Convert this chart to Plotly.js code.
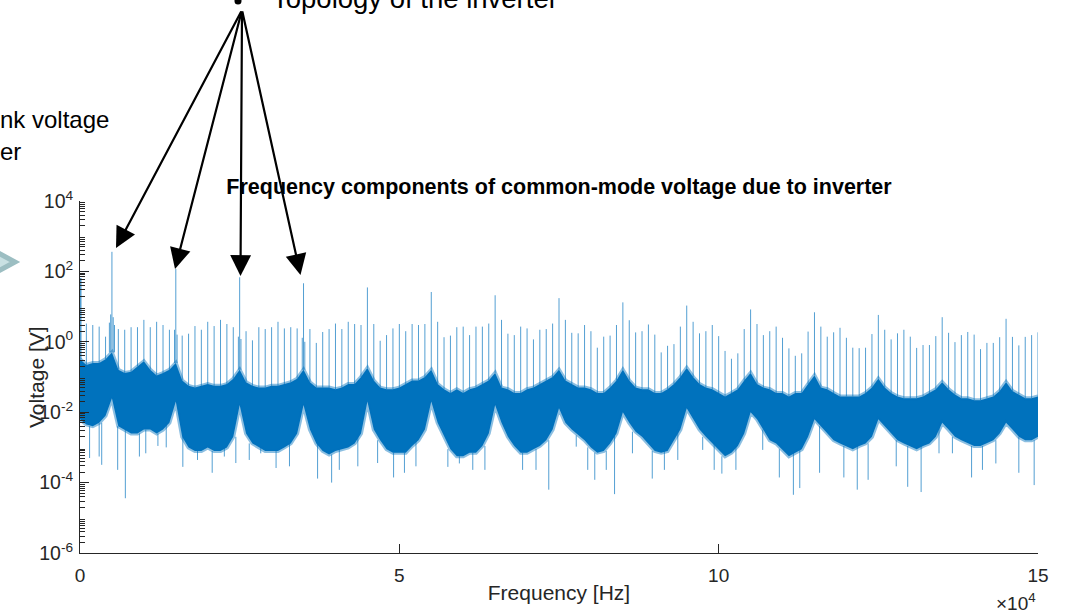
<!DOCTYPE html>
<html><head><meta charset="utf-8">
<script src="https://cdn.plot.ly/plotly-3.0.1.min.js"></script>
<style>html,body{margin:0;padding:0;background:#fff;overflow:hidden}#chart{width:1071px;height:614px}</style>
</head><body><div id="chart"></div>
<script>
// Harmonic (1 kHz grid) amplitudes in V, index = frequency in kHz (0 = DC)
const harmonicV = [65,
 3.3,3.0,2.7,1.4,360,2.3,2.2,2.6,2.6,4.2,
 2.6,3.7,3.0,2.2,117,1.5,1.7,2.8,2.2,3.7,
 2.8,4.2,3.2,2.6,68,2.0,1.1,2.6,2.3,2.6,
 3.7,2.4,2.6,2.4,46,2.3,0.93,1.9,2.3,3.3,
 2.3,3.7,3.2,3.0,35,3.2,1.07,1.55,2.4,3.2,
 2.0,3.2,3.0,3.2,26,3.7,1.35,1.5,2.6,2.7,
 1.55,2.7,2.7,3.3,21,4.2,1.7,1.55,2.7,2.4,
 1.17,2.2,2.3,3.3,17.4,4.2,1.8,1.74,3.0,2.0,
 0.68,1.4,1.5,3.0,13.2,4.1,1.85,2.0,3.1,1.6,
 0.5,0.77,0.86,2.7,10.7,3.7,1.74,2.0,3.0,1.45,
 0.55,0.33,0.47,2.3,8.3,3.2,1.55,2.0,2.7,1.3,
 0.65,0.4,0.47,1.95,6.9,2.7,1.4,1.86,2.5,1.3,
 0.68,0.66,0.68,1.66,5.8,2.2,1.17,1.74,2.2,1.4,
 0.67,0.81,0.81,1.45,5.0,1.8,0.98,1.55,1.9,1.6,
 0.62,0.93,0.93,1.35,4.5,1.38,0.79,1.38,1.55,1.86];

// Upper / lower edge of the broadband noise floor in V, same 1 kHz grid
const noiseHiV = [0.32,
 0.22,0.25,0.25,0.32,0.50,0.16,0.13,0.14,0.20,0.28,
 0.16,0.11,0.13,0.16,0.25,0.079,0.056,0.050,0.056,0.063,
 0.056,0.056,0.063,0.089,0.16,0.071,0.056,0.050,0.050,0.056,
 0.056,0.063,0.071,0.089,0.16,0.071,0.050,0.050,0.050,0.045,
 0.050,0.063,0.063,0.10,0.18,0.079,0.050,0.045,0.045,0.050,
 0.063,0.079,0.079,0.10,0.16,0.063,0.045,0.035,0.045,0.035,
 0.045,0.050,0.063,0.079,0.13,0.050,0.045,0.035,0.035,0.045,
 0.050,0.063,0.079,0.10,0.16,0.079,0.063,0.050,0.050,0.045,
 0.035,0.035,0.050,0.079,0.16,0.079,0.050,0.045,0.045,0.035,
 0.035,0.045,0.063,0.10,0.18,0.10,0.063,0.050,0.045,0.035,
 0.028,0.035,0.045,0.079,0.13,0.063,0.050,0.045,0.035,0.035,
 0.028,0.035,0.035,0.063,0.11,0.050,0.045,0.035,0.028,0.028,
 0.028,0.028,0.035,0.050,0.089,0.050,0.035,0.028,0.025,0.025,
 0.025,0.028,0.035,0.045,0.071,0.045,0.032,0.025,0.025,0.022,
 0.022,0.025,0.028,0.040,0.071,0.040,0.032,0.025,0.025,0.028];
const noiseLoV = [0.0063,
 0.0045,0.0040,0.0050,0.0079,0.025,0.0040,0.0032,0.0025,0.0025,0.0032,
 0.0032,0.0025,0.0032,0.0050,0.020,0.0020,0.0010,0.00079,0.00079,0.0010,
 0.00079,0.00079,0.0010,0.0020,0.016,0.0025,0.0013,0.0010,0.00079,0.00079,
 0.00079,0.0010,0.0013,0.0025,0.016,0.0032,0.0013,0.00079,0.00063,0.00079,
 0.00089,0.0010,0.0013,0.0025,0.020,0.0032,0.0016,0.00089,0.00071,0.00071,
 0.00071,0.0011,0.0016,0.0032,0.020,0.0050,0.0020,0.00089,0.00056,0.00056,
 0.00071,0.00071,0.0011,0.0025,0.016,0.0050,0.0020,0.0011,0.00071,0.00071,
 0.00089,0.0011,0.0016,0.0032,0.013,0.0050,0.0032,0.0022,0.0016,0.0010,
 0.00071,0.00079,0.0013,0.0025,0.010,0.0050,0.0028,0.0020,0.0013,0.00079,
 0.00071,0.00079,0.0016,0.0032,0.013,0.0063,0.0032,0.0020,0.0013,0.00089,
 0.00056,0.00071,0.0011,0.0025,0.010,0.0063,0.0032,0.0016,0.0013,0.00089,
 0.00056,0.00071,0.00089,0.0020,0.0063,0.0040,0.0025,0.0016,0.0013,0.0011,
 0.00089,0.0011,0.0013,0.0020,0.0063,0.0040,0.0025,0.0016,0.0013,0.0011,
 0.00089,0.0011,0.0013,0.0020,0.0050,0.0032,0.0020,0.0016,0.0013,0.0011,
 0.0011,0.0013,0.0016,0.0025,0.0050,0.0032,0.0020,0.0016,0.0016,0.0020];

// Sideband lines around the dominant harmonics
const sidebandKHz = [4.6, 4.8, 5.2, 5.4, 14.8, 15.2, 24.8, 25.2, 34.8, 35.2];
const sidebandV   = [3.5, 6.0, 5.0, 3.0, 2.2, 1.6, 1.4, 1.2, 1.3, 1.0];

// Downward dips of the noise floor
const dipKHz = [1.5, 3.0, 3.4, 5.9, 7.1, 9.3, 10.3, 12.2, 13.5, 16.1, 18.4, 20.7, 22.6, 24.4, 26.5, 28.3, 30.7, 32.8,
  37.2, 39.4, 40.6, 43.5, 46.6, 49.1, 50.8, 52.6, 57.6, 59.4, 61.5, 63.4, 69.3, 71.4, 73.4,
  77.7, 79.5, 80.6, 82.4, 83.7, 86.5, 89.6, 91.5, 93.6, 97.5, 99.3, 100.5, 102.7, 106.9, 109.5, 111.7, 112.7,
  115.8, 119.6, 121.7, 123.4, 127.8, 129.6, 131.7, 134.5, 136.6, 139.6, 141.3, 143.4, 147.0, 149.4];
const dipV = [0.0005, 0.00055, 0.00032, 0.00023, 0.000036, 0.00055, 0.00068, 0.0011, 0.001, 0.00028, 0.00044, 0.00019, 0.00055, 0.00036, 0.00044, 0.00068, 0.00026, 0.00029,
  0.00013, 0.0001, 0.00023, 0.00029, 0.00036, 0.00014, 0.00019, 0.00029, 0.00028, 0.00035, 0.00023, 0.00023, 0.00023, 0.00023, 0.000063,
  0.00105, 0.00023, 0.00012, 0.00023, 0.000047, 0.00068, 0.00013, 0.00023, 0.00044, 0.00085, 0.00023, 0.00018, 0.00023, 0.00085, 0.00014, 0.000045, 0.00007,
  0.00019, 0.00014, 0.000063, 0.00012, 0.00029, 0.000076, 0.000054, 0.00068, 0.00068, 0.00014, 0.00023, 0.00035, 0.00019, 0.000085];

const xTickVals = [0, 50000, 100000, 150000];
const xTickText = ['0', '5', '10', '15'];
const yTickVals = [1e-6, 1e-4, 1e-2, 1, 1e2, 1e4];
const yTickText = ['10<sup>-6</sup>', '10<sup>-4</sup>', '10<sup>-2</sup>', '10<sup>0</sup>', '10<sup>2</sup>', '10<sup>4</sup>'];

const FONT = 'Liberation Sans, Arial, Helvetica, sans-serif';
const BLUE = '#0072BD';
const LIGHT = 'rgba(0,114,189,0.68)';
const EDGE = 'rgba(0,114,189,0.45)';

const kHzGrid = harmonicV.map((_, i) => i);
const bandX = kHzGrid.map(k => k * 1000);

const sx = [], sy = [];
kHzGrid.forEach((k, i) => { if (i > 0) { sx.push(k * 1000, k * 1000, null); sy.push(noiseHiV[i], harmonicV[i], null); } });
const sbx = [], sby = [];
sidebandKHz.forEach((k, i) => { const j = Math.round(k); sbx.push(k * 1000, k * 1000, null); sby.push(noiseHiV[j], sidebandV[i], null); });
const dx = [], dy = [];
dipKHz.forEach((k, i) => { const j = Math.round(k); dx.push(k * 1000, k * 1000, null); dy.push(noiseLoV[j], dipV[i], null); });

const traces = [
  {x: bandX, y: noiseLoV, mode: 'lines', line: {color: EDGE, width: 4}, hoverinfo: 'skip', showlegend: false},
  {x: bandX, y: noiseHiV, mode: 'lines', fill: 'tonexty', fillcolor: BLUE, line: {color: EDGE, width: 4}, hoverinfo: 'skip', showlegend: false},
  {x: dx, y: dy, mode: 'lines', line: {color: LIGHT, width: 1}, showlegend: false},
  {x: sbx, y: sby, mode: 'lines', line: {color: LIGHT, width: 1}, showlegend: false},
  {x: sx, y: sy, mode: 'lines', line: {color: LIGHT, width: 1}, showlegend: false},
  {x: [0, 0], y: [noiseHiV[0], harmonicV[0]], mode: 'lines', line: {color: LIGHT, width: 3}, showlegend: false}
];

// pixel -> paper helpers (plot area: x 80..1038, y 201..553)
const PX = p => (p - 80) / 958;
const PY = p => (553 - p) / 352;

const minorVals = [];
for (let e = -6; e < 4; e++) for (let m = 2; m <= 9; m++) minorVals.push(m * Math.pow(10, e));

const tail = [242, 10];
const heads = [[116, 248], [175, 269], [240.5, 276], [300.5, 275]];
const arrowAnns = heads.map(h => ({
  xref: 'paper', yref: 'paper', x: PX(h[0]), y: PY(h[1]), text: '', showarrow: true,
  axref: 'pixel', ayref: 'pixel', ax: tail[0] - h[0], ay: tail[1] - h[1],
  arrowhead: 2, arrowsize: 1.9, arrowwidth: 2.2, arrowcolor: '#000'
}));

const layout = {
  width: 1071, height: 614,
  margin: {l: 80, r: 33, t: 201, b: 61},
  paper_bgcolor: '#fff', plot_bgcolor: '#fff',
  showlegend: false,
  font: {family: FONT, color: '#262626', size: 19},
  title: {text: '<b>Frequency components of common-mode voltage due to inverter</b>',
          font: {family: FONT, size: 21.5, color: '#000'},
          xref: 'paper', x: 0.5, xanchor: 'center', yref: 'container', y: 1 - 186 / 614, yanchor: 'middle'},
  xaxis: {
    range: [0, 150000], tickmode: 'array', tickvals: xTickVals, ticktext: xTickText,
    ticks: 'inside', ticklen: 9, tickwidth: 1, tickcolor: '#262626',
    showline: true, linecolor: '#262626', linewidth: 1, mirror: false,
    showgrid: false, zeroline: false, ticklabelstandoff: 5,
    tickfont: {family: FONT, size: 19, color: '#262626'},
    title: {text: 'Frequency [Hz]', font: {family: FONT, size: 21, color: '#262626'}, standoff: 0}
  },
  yaxis: {
    type: 'log', range: [-6, 4], tickmode: 'array', tickvals: yTickVals, ticktext: yTickText,
    ticks: 'inside', ticklen: 9, tickwidth: 1, tickcolor: '#262626',
    minor: {tickmode: 'array', tickvals: minorVals, ticks: 'inside', ticklen: 5, tickwidth: 1, tickcolor: '#262626', showgrid: false},
    showline: true, linecolor: '#262626', linewidth: 1, mirror: false,
    showgrid: false, zeroline: false, ticklabelstandoff: 2,
    tickfont: {family: FONT, size: 19.5, color: '#262626'}
  },
  annotations: [
    {xref: 'paper', yref: 'paper', x: PX(36), y: 0.5, text: 'Voltage [V]', textangle: -90, showarrow: false,
     font: {family: FONT, size: 21, color: '#262626'}, xanchor: 'center', yanchor: 'middle'},
    {xref: 'paper', yref: 'paper', x: 1.0, y: PY(602), text: '\u00d710<sup>4</sup>', showarrow: false,
     font: {family: FONT, size: 19, color: '#262626'}, xanchor: 'right', yanchor: 'middle'},
    {xref: 'paper', yref: 'paper', x: PX(270), y: PY(-2), text: 'Topology of the inverter', showarrow: false,
     font: {family: FONT, size: 27.5, color: '#000'}, xanchor: 'left', yanchor: 'middle'},
    {xref: 'paper', yref: 'paper', x: PX(-2), y: PY(119), text: 'nk voltage', showarrow: false,
     font: {family: FONT, size: 24, color: '#000'}, xanchor: 'left', yanchor: 'middle'},
    {xref: 'paper', yref: 'paper', x: PX(-2), y: PY(151), text: 'er', showarrow: false,
     font: {family: FONT, size: 24, color: '#000'}, xanchor: 'left', yanchor: 'middle'}
  ].concat(arrowAnns),
  shapes: [
    {type: 'path', xref: 'paper', yref: 'paper',
     path: `M ${PX(-20)} ${PY(243)} L ${PX(15)} ${PY(262)} L ${PX(-20)} ${PY(281)} Z`,
     fillcolor: '#c9e1e3', line: {color: '#9cbec2', width: 5}},
    {type: 'circle', xref: 'paper', yref: 'paper', x0: PX(234.5), x1: PX(241.5), y0: PY(4.5), y1: PY(-2.5),
     fillcolor: '#000', line: {width: 0}}
  ]
};

Plotly.newPlot('chart', traces, layout, {displayModeBar: false, staticPlot: true});
</script></body></html>
